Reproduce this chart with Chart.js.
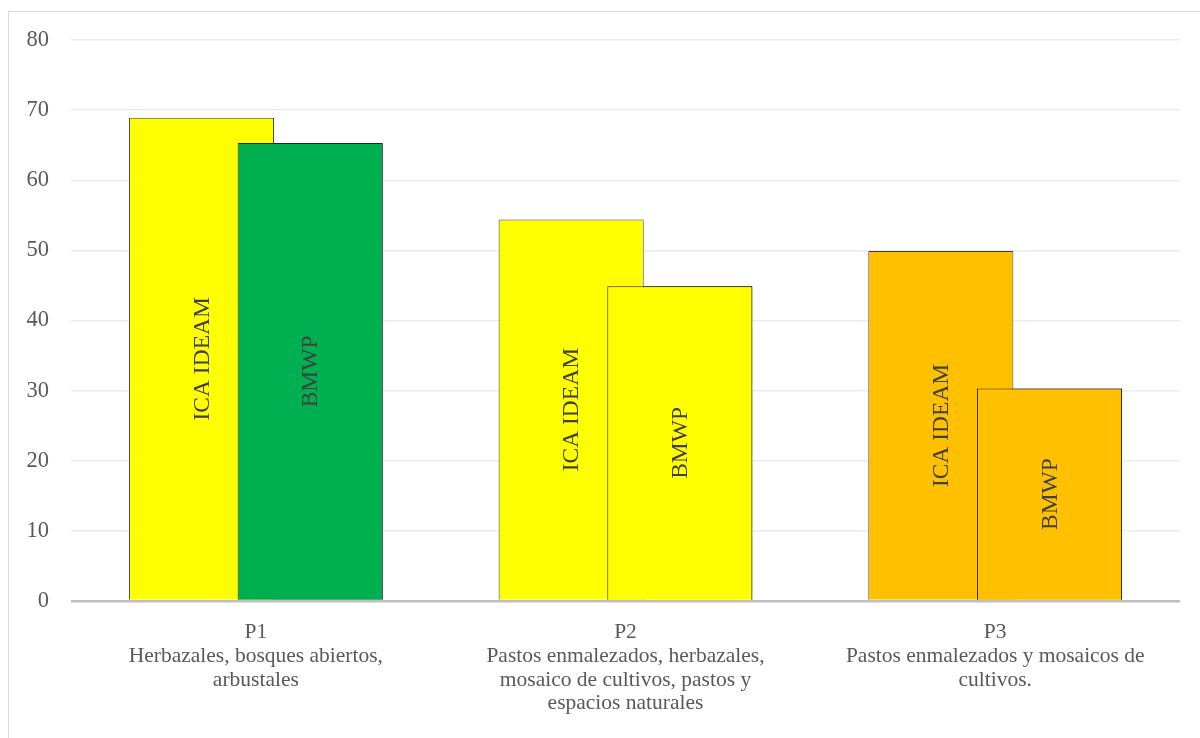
<!DOCTYPE html>
<html>
<head>
<meta charset="utf-8">
<script src="https://cdn.jsdelivr.net/npm/chart.js@4"></script>
<style>
  body { margin: 0; background: #fff; }
  #wrap { width: 1200px; height: 738px; }
</style>
</head>
<body>
<div id="wrap"><canvas id="indexChart"></canvas></div>
<script>
// data
const categories = [
    ['P1', 'Herbazales, bosques abiertos,', 'arbustales'],
    ['P2', 'Pastos enmalezados, herbazales,', 'mosaico de cultivos, pastos y', 'espacios naturales'],
    ['P3', 'Pastos enmalezados y mosaicos de', 'cultivos.']
];
const seriesNames = ['ICA IDEAM', 'BMWP'];
const icaValues = [68.9, 54.4, 49.9];
const bmwpValues = [65.3, 44.9, 30.3];
const icaColors = ['#FFFF00', '#FFFF00', '#FFC000'];
const bmwpColors = ['#00B050', '#FFFF00', '#FFC000'];

const serif = '"Liberation Serif", "Times New Roman", serif';

// frame around the whole chart
const framePlugin = {
    id: 'frame',
    beforeDraw(chart) {
        const ctx = chart.ctx;
        ctx.save();
        ctx.strokeStyle = '#d9d9d9';
        ctx.lineWidth = 1;
        ctx.strokeRect(8.5, 11.5, 1200, 800);
        ctx.restore();
    }
};

// second series overlaps the first one, so paint it again on top,
// then write the series name vertically in the middle of each bar
const barTextPlugin = {
    id: 'barText',
    afterDatasetsDraw(chart) {
        const ctx = chart.ctx;
        ctx.save();
        chart.getDatasetMeta(1).data.forEach(bar => bar.draw(ctx));
        ctx.font = '23.5px ' + serif;
        ctx.fillStyle = '#404040';
        ctx.textAlign = 'center';
        ctx.textBaseline = 'middle';
        chart.data.datasets.forEach((ds, i) => {
            chart.getDatasetMeta(i).data.forEach(bar => {
                const cy = (bar.y + bar.base) / 2;
                ctx.save();
                ctx.translate(bar.x, cy);
                ctx.rotate(-Math.PI / 2);
                ctx.fillText(ds.label, 0, 1);
                ctx.restore();
            });
        });
        ctx.restore();
    }
};

new Chart(document.getElementById('indexChart'), {
    type: 'bar',
    data: {
        labels: categories,
        datasets: [{
            label: seriesNames[0],
            data: icaValues,
            backgroundColor: icaColors,
            borderColor: '#404040',
            borderWidth: 1
        }, {
            label: seriesNames[1],
            data: bmwpValues,
            backgroundColor: bmwpColors,
            borderColor: '#262626',
            borderWidth: 1
        }]
    },
    options: {
        responsive: true,
        maintainAspectRatio: false,
        animation: false,
        categoryPercentage: 0.588,
        barPercentage: 1.335,
        layout: { padding: { top: 40, right: 20, left: 0, bottom: 0 } },
        plugins: {
            legend: { display: false },
            tooltip: { enabled: false }
        },
        scales: {
            x: {
                grid: { display: false, drawTicks: false },
                border: { display: false },
                ticks: {
                    color: '#595959',
                    font: { family: serif, size: 21.5, lineHeight: 1.1 },
                    padding: 20,
                    maxRotation: 0,
                    autoSkip: false
                },
                afterFit(scale) { scale.height = 137; }
            },
            y: {
                min: 0,
                max: 80,
                ticks: {
                    stepSize: 10,
                    color: '#595959',
                    font: { family: serif, size: 22.5 },
                    padding: 22
                },
                grid: {
                    drawTicks: false,
                    color: ctx => ctx.tick && ctx.tick.value === 0 ? '#bfbfbf' : '#ececec',
                    lineWidth: ctx => ctx.tick && ctx.tick.value === 0 ? 2.5 : 1.5
                },
                border: { display: false },
                afterFit(scale) { scale.width = 71; }
            }
        }
    },
    plugins: [framePlugin, barTextPlugin]
});
</script>
</body>
</html>
